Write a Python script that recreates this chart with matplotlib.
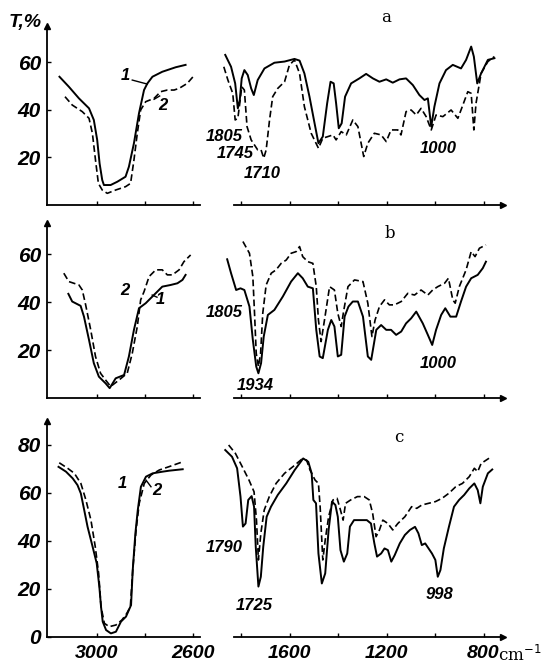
import matplotlib
matplotlib.use("Agg")
import matplotlib.pyplot as plt

# ---------------- data (wavenumber cm-1, T %) ----------------

# panel a, C-H region
a_left_wn1 = [3156, 3117, 3075, 3033, 3013, 2999, 2989, 2978, 2971, 2943, 2915, 2881, 2867,
              2846, 2825, 2804, 2790, 2769, 2728, 2672, 2631]
a_left_t1 = [53.8, 49.6, 44.7, 40.5, 35.6, 27.2, 17.3, 10.3, 8.2, 8.2, 9.6, 11.7, 15.9,
             25.8, 38.4, 48.2, 51.0, 53.8, 55.9, 57.8, 58.8]
a_left_wn2 = [3133, 3103, 3061, 3033, 3019, 3006, 2994, 2978, 2957, 2922, 2881, 2860, 2846,
              2832, 2818, 2797, 2762, 2735, 2707, 2679, 2658, 2624, 2600]
a_left_t2 = [45.4, 41.9, 39.1, 36.3, 30.0, 18.7, 8.9, 6.1, 4.7, 6.1, 7.5, 8.9, 18.7,
             30.0, 39.8, 43.3, 44.7, 47.5, 48.2, 48.2, 48.9, 51.0, 53.8]

# panel a, fingerprint region
a_right_wn1 = [1867, 1843, 1826, 1815, 1807, 1799, 1788, 1774, 1760, 1749, 1733, 1705, 1664,
               1622, 1581, 1560, 1540, 1519, 1498, 1482, 1464, 1446, 1432, 1419, 1409, 1398,
               1386, 1372, 1347, 1313, 1285, 1257, 1230, 1202, 1175, 1147, 1120, 1092, 1065,
               1044, 1030, 1016, 1003, 982, 955, 927, 893, 872, 851, 840, 826, 810, 782, 755]
a_right_t1 = [63.0, 58.0, 51.0, 40.5, 44.0, 53.1, 56.6, 54.5, 48.9, 46.1, 52.4, 57.3, 59.7,
              60.2, 61.3, 60.6, 55.2, 45.4, 34.2, 25.8, 28.6, 42.6, 51.7, 51.0, 42.6, 32.1,
              34.2, 45.4, 51.0, 53.1, 55.0, 53.1, 51.7, 52.7, 51.3, 52.7, 53.1, 50.3, 46.1,
              44.0, 44.7, 32.8, 41.2, 51.0, 56.6, 58.8, 57.3, 60.9, 66.5, 62.3, 51.0, 55.2,
              60.9, 61.6]
a_right_wn2 = [1873, 1856, 1836, 1826, 1815, 1807, 1799, 1788, 1777, 1760, 1733, 1719, 1708,
               1698, 1684, 1671, 1650, 1622, 1602, 1581, 1560, 1540, 1512, 1482, 1464, 1443,
               1422, 1409, 1388, 1367, 1340, 1319, 1295, 1278, 1251, 1223, 1202, 1182, 1154,
               1141, 1120, 1099, 1078, 1058, 1037, 1016, 996, 968, 934, 906, 893, 865, 851,
               840, 831, 810, 782, 755]
a_right_t2 = [58.0, 52.4, 46.8, 35.6, 36.3, 42.6, 49.6, 48.2, 32.8, 27.2, 23.0, 23.0, 19.5,
              23.0, 35.6, 45.4, 48.9, 51.7, 58.7, 60.9, 55.2, 41.2, 30.0, 23.7, 27.9, 28.6,
              29.3, 27.2, 30.7, 29.3, 35.6, 32.8, 20.2, 25.8, 30.0, 29.3, 26.5, 31.4, 31.4,
              29.3, 39.1, 39.8, 37.7, 40.5, 37.0, 31.4, 37.7, 37.0, 39.8, 36.3, 39.8, 47.5,
              46.8, 31.4, 42.6, 55.2, 60.2, 62.3]

# panel b, C-H region
b_left_wn1 = [3119, 3103, 3068, 3054, 3033, 3013, 2992, 2964, 2947, 2922, 2887, 2867, 2846,
              2825, 2797, 2762, 2728, 2693, 2665, 2644, 2631]
b_left_t1 = [43.4, 40.2, 38.4, 33.9, 24.2, 14.5, 8.9, 6.1, 4.1, 8.2, 9.6, 17.3, 28.4,
             37.4, 39.5, 43.0, 46.4, 47.1, 47.8, 49.2, 51.3]
b_left_wn2 = [3138, 3117, 3096, 3075, 3061, 3047, 3026, 3006, 2985, 2964, 2943, 2908, 2874,
              2853, 2832, 2818, 2804, 2783, 2755, 2728, 2707, 2686, 2658, 2638, 2610]
b_left_t2 = [52.0, 48.5, 47.8, 47.1, 45.0, 38.8, 28.4, 17.3, 10.3, 7.5, 4.8, 7.5, 10.3,
             18.6, 29.8, 40.9, 44.3, 50.6, 53.4, 53.4, 51.3, 51.3, 53.4, 56.8, 59.6]

# panel b, fingerprint region
b_right_wn1 = [1859, 1843, 1822, 1804, 1788, 1767, 1753, 1739, 1730, 1719, 1708, 1691, 1664,
               1629, 1595, 1567, 1547, 1526, 1505, 1491, 1477, 1464, 1443, 1429, 1416, 1402,
               1388, 1374, 1358, 1340, 1319, 1298, 1278, 1264, 1243, 1223, 1202, 1182, 1161,
               1140, 1120, 1099, 1078, 1051, 1030, 1012, 996, 975, 958, 937, 913, 893, 872,
               851, 824, 803, 790]
b_right_t1 = [57.8, 52.0, 45.0, 45.7, 45.0, 38.1, 24.2, 13.1, 10.3, 14.5, 25.6, 34.6, 36.7,
              42.3, 48.5, 52.0, 49.9, 46.4, 45.7, 28.4, 17.3, 16.6, 28.4, 32.5, 29.8, 17.3,
              18.0, 33.9, 38.1, 40.2, 40.2, 33.9, 17.3, 15.9, 28.4, 30.4, 28.4, 28.4, 26.3,
              27.7, 31.1, 33.2, 36.0, 31.1, 26.3, 22.1, 28.4, 34.6, 37.4, 33.9, 33.9, 40.2,
              46.4, 49.9, 51.3, 54.1, 56.8]
b_right_wn2 = [1794, 1767, 1753, 1746, 1739, 1730, 1721, 1712, 1698, 1677, 1657, 1636, 1615,
               1595, 1574, 1560, 1547, 1526, 1505, 1491, 1482, 1471, 1457, 1436, 1416, 1402,
               1388, 1377, 1360, 1333, 1298, 1278, 1261, 1248, 1230, 1209, 1189, 1168, 1140,
               1113, 1085, 1058, 1030, 1010, 989, 961, 945, 927, 917, 900, 872, 851, 835, 817,
               790]
b_right_t2 = [65.2, 60.3, 50.6, 35.3, 18.6, 13.1, 18.6, 35.3, 47.1, 52.0, 53.4, 56.1, 57.5,
              60.3, 61.0, 63.1, 58.9, 56.8, 56.1, 46.4, 32.5, 23.5, 32.5, 46.4, 45.0, 35.3,
              29.8, 36.7, 46.4, 49.2, 48.5, 39.5, 25.6, 32.5, 38.1, 40.9, 38.8, 38.8, 40.2,
              43.6, 42.9, 45.0, 42.9, 45.0, 46.4, 47.8, 49.9, 40.9, 39.5, 46.4, 53.4, 61.0,
              58.9, 62.4, 63.8]

# panel c, C-H region
c_left_wn1 = [3160, 3129, 3101, 3081, 3067, 3053, 3039, 3018, 3001, 2990, 2983, 2976, 2962,
              2942, 2921, 2900, 2879, 2858, 2851, 2840, 2830, 2817, 2796, 2768, 2726, 2699,
              2643]
c_left_t1 = [70.9, 68.9, 66.1, 63.3, 59.8, 52.9, 45.9, 37.6, 30.7, 20.9, 12.6, 6.4, 2.9,
             1.5, 2.2, 6.4, 8.5, 13.3, 27.9, 43.2, 52.9, 62.6, 66.8, 68.2, 68.9, 69.3, 69.9]
c_left_wn2 = [3157, 3122, 3094, 3067, 3046, 3025, 3007, 2993, 2983, 2969, 2949, 2921, 2896,
              2876, 2861, 2851, 2837, 2824, 2803, 2775, 2740, 2699, 2643]
c_left_t2 = [72.6, 70.3, 68.2, 64.0, 57.1, 48.7, 37.6, 26.5, 12.6, 5.7, 4.3, 5.0, 7.1,
             9.8, 12.6, 27.9, 44.6, 55.7, 64.0, 67.5, 69.6, 71.0, 73.0]

# panel c, fingerprint region
c_right_wn1 = [1867, 1839, 1818, 1804, 1794, 1783, 1772, 1758, 1748, 1741, 1730, 1720, 1710,
               1696, 1678, 1650, 1615, 1580, 1545, 1524, 1510, 1503, 1492, 1482, 1468, 1454,
               1440, 1426, 1412, 1402, 1391, 1377, 1363, 1352, 1335, 1307, 1282, 1265, 1251,
               1240, 1223, 1209, 1195, 1181, 1167, 1146, 1125, 1104, 1083, 1069, 1055, 1041,
               1027, 1013, 999, 989, 978, 964, 943, 922, 901, 880, 859, 838, 824, 813, 803,
               782, 764]
c_right_t1 = [77.9, 75.1, 70.3, 58.5, 46.0, 47.3, 57.1, 58.7, 54.3, 37.6, 21.0, 25.1, 37.6,
              50.1, 54.3, 59.2, 64.0, 69.6, 74.4, 73.0, 68.2, 57.1, 55.7, 34.8, 22.3, 26.5,
              44.6, 56.4, 55.0, 50.1, 36.2, 31.4, 34.8, 46.0, 48.7, 48.7, 48.7, 47.3, 39.0,
              33.5, 34.8, 36.9, 36.2, 31.4, 34.1, 39.0, 42.5, 44.6, 45.9, 43.2, 38.3, 39.0,
              36.9, 34.8, 32.1, 25.1, 27.9, 36.9, 45.9, 54.3, 57.1, 59.2, 61.9, 64.0, 61.2,
              55.7, 62.6, 68.2, 69.8]
c_right_wn2 = [1853, 1825, 1797, 1769, 1748, 1738, 1730, 1720, 1706, 1685, 1657, 1622, 1587,
               1552, 1531, 1517, 1496, 1482, 1475, 1464, 1454, 1440, 1422, 1405, 1391, 1380,
               1370, 1349, 1321, 1293, 1272, 1258, 1244, 1230, 1216, 1195, 1175, 1154, 1125,
               1097, 1076, 1055, 1027, 999, 971, 943, 915, 887, 859, 838, 824, 810, 789, 768]
c_right_t2 = [80.0, 76.5, 71.0, 65.4, 60.5, 48.7, 32.1, 43.2, 52.9, 58.5, 64.0, 68.2, 71.0,
              74.0, 73.7, 69.6, 65.4, 64.0, 54.3, 32.1, 40.4, 50.1, 57.1, 57.8, 52.9, 48.7,
              55.7, 57.1, 58.5, 58.5, 57.1, 51.5, 41.8, 44.6, 48.7, 47.3, 44.6, 47.3, 50.1,
              54.3, 53.6, 55.0, 55.7, 56.4, 57.8, 59.9, 62.6, 64.0, 66.8, 70.3, 68.9, 72.3,
              73.7, 75.1]

# band labels: (text, wavenumber, T)
a_bands = [("1805", 1870, 28.5), ("1745", 1826, 21.5), ("1710", 1716, 13.1), ("1000", 989, 23.7)]
b_bands = [("1805", 1870, 35.6), ("1934", 1743, 5.4), ("1000", 986, 14.5)]
c_bands = [("1790", 1870, 37.3), ("1725", 1746, 13.0), ("998", 982, 17.9)]

# ---------------- layout ----------------
W, H = 546, 671
fig = plt.figure(figsize=(W / 100, H / 100), dpi=100)

# narrow bold italic digits, like the typeset figure
num_style = dict(family="Liberation Sans", fontweight="bold", fontstyle="italic")


def px_axes(left, top, right, bottom):
    return fig.add_axes([left / W, 1 - bottom / H, (right - left) / W, (bottom - top) / H])


def style_axes(ax, is_left, yticks, xticks, xlim, ylim):
    ax.set_xlim(*xlim)
    ax.set_ylim(*ylim)
    ax.patch.set_visible(False)
    for s in ("top", "right"):
        ax.spines[s].set_visible(False)
    ax.spines["bottom"].set_linewidth(1.3)
    ax.set_xticks(xticks)
    ax.tick_params(axis="x", direction="in", length=3, width=1, labelbottom=False)
    if is_left:
        ax.spines["left"].set_linewidth(1.3)
        ax.set_yticks(yticks)
        ax.tick_params(axis="y", direction="in", length=3, width=1, pad=4)
        for lab in ax.get_yticklabels():
            lab.update(num_style)
            lab.set_fontsize(15)
        ax.plot(0, 1, marker="^", color="k", ms=4, transform=ax.transAxes, clip_on=False)
    else:
        ax.spines["left"].set_visible(False)
        ax.set_yticks([])
        ax.spines["bottom"].set_bounds(1830, 722)
        ax.plot(718, 0, marker=">", color="k", ms=5, transform=ax.get_xaxis_transform(),
                clip_on=False)


solid = dict(color="k", lw=1.4, solid_joinstyle="round")
dashed = dict(color="k", lw=1.2, linestyle=(0, (4, 2)))
band_kw = dict(num_style, fontsize=12, ha="center", va="center")

left_xlim = (3210, 2571)
right_xlim = (1880, 715)
left_xticks = [3000, 2800, 2600]
right_xticks = [1800, 1600, 1400, 1200, 1000, 800]

rows = [
    # top, bottom, ylim, yticks
    (26.4, 204.5, (0, 75), [20, 40, 60]),
    (222.8, 398, (0, 73), [20, 40, 60]),
    (421, 637, (0, 90), [0, 20, 40, 60, 80]),
]
lefts = [(a_left_wn1, a_left_t1, a_left_wn2, a_left_t2),
         (b_left_wn1, b_left_t1, b_left_wn2, b_left_t2),
         (c_left_wn1, c_left_t1, c_left_wn2, c_left_t2)]
rights = [(a_right_wn1, a_right_t1, a_right_wn2, a_right_t2),
          (b_right_wn1, b_right_t1, b_right_wn2, b_right_t2),
          (c_right_wn1, c_right_t1, c_right_wn2, c_right_t2)]
bands = [a_bands, b_bands, c_bands]

left_axes = []
for (top, bottom, ylim, yticks), (w1, t1, w2, t2), (rw1, rt1, rw2, rt2), bl in zip(rows, lefts, rights, bands):
    axl = px_axes(46.5, top, 200, bottom)
    style_axes(axl, True, yticks, left_xticks, left_xlim, ylim)
    axl.plot(w1, t1, **solid)
    axl.plot(w2, t2, **dashed)
    left_axes.append(axl)

    axr = px_axes(222.1, top, 504.1, bottom)
    style_axes(axr, False, yticks, right_xticks, right_xlim, ylim)
    axr.plot(rw1, rt1, **solid)
    axr.plot(rw2, rt2, **dashed)
    for txt, wn, t in bl:
        axr.text(wn, t, txt, **band_kw)

    if bottom > 600:
        axl.set_xticks(left_xticks, ["3000", "", "2600"])
        axr.set_xticks(right_xticks, ["", "1600", "", "1200", "", "800"])
        for ax in (axl, axr):
            ax.tick_params(axis="x", labelbottom=True, pad=6)
            for lab in ax.get_xticklabels():
                lab.update(num_style)
                lab.set_fontsize(14)

# curve numbers in the C-H panels
num_kw = dict(num_style, fontsize=12, ha="center", va="center")
ax_a, ax_b, ax_c = left_axes
ax_a.text(2883, 54.5, "1", **num_kw)
ax_a.plot([2853, 2790], [52.4, 50.7], color="k", lw=1)
ax_a.text(2725, 41.5, "2", **num_kw)
ax_a.plot([2762, 2739], [44.3, 45.7], color="k", lw=1)
ax_b.text(2883, 44.7, "2", **num_kw)
ax_b.text(2735, 41.1, "1", **num_kw)
ax_b.plot([2770, 2750], [42.9, 42.0], color="k", lw=1)
ax_c.text(2896, 64.0, "1", **num_kw)
ax_c.text(2751, 61.2, "2", **num_kw)
ax_c.plot([2775, 2796], [62.6, 65.4], color="k", lw=1)

# figure-level text
fig.text(25 / W, 1 - 23 / H, "T,%", fontsize=14, ha="center", va="center", **num_style)
for letter, x, y in [("a", 386, 17), ("b", 390, 233), ("c", 399, 437)]:
    fig.text(x / W, 1 - y / H, letter, family="DejaVu Serif", fontsize=12,
             ha="center", va="center")
fig.text(520 / W, 1 - 655 / H, "cm$^{-1}$", family="DejaVu Serif", fontsize=12,
         ha="center", va="center")

fig.savefig("out.png", dpi=100)
